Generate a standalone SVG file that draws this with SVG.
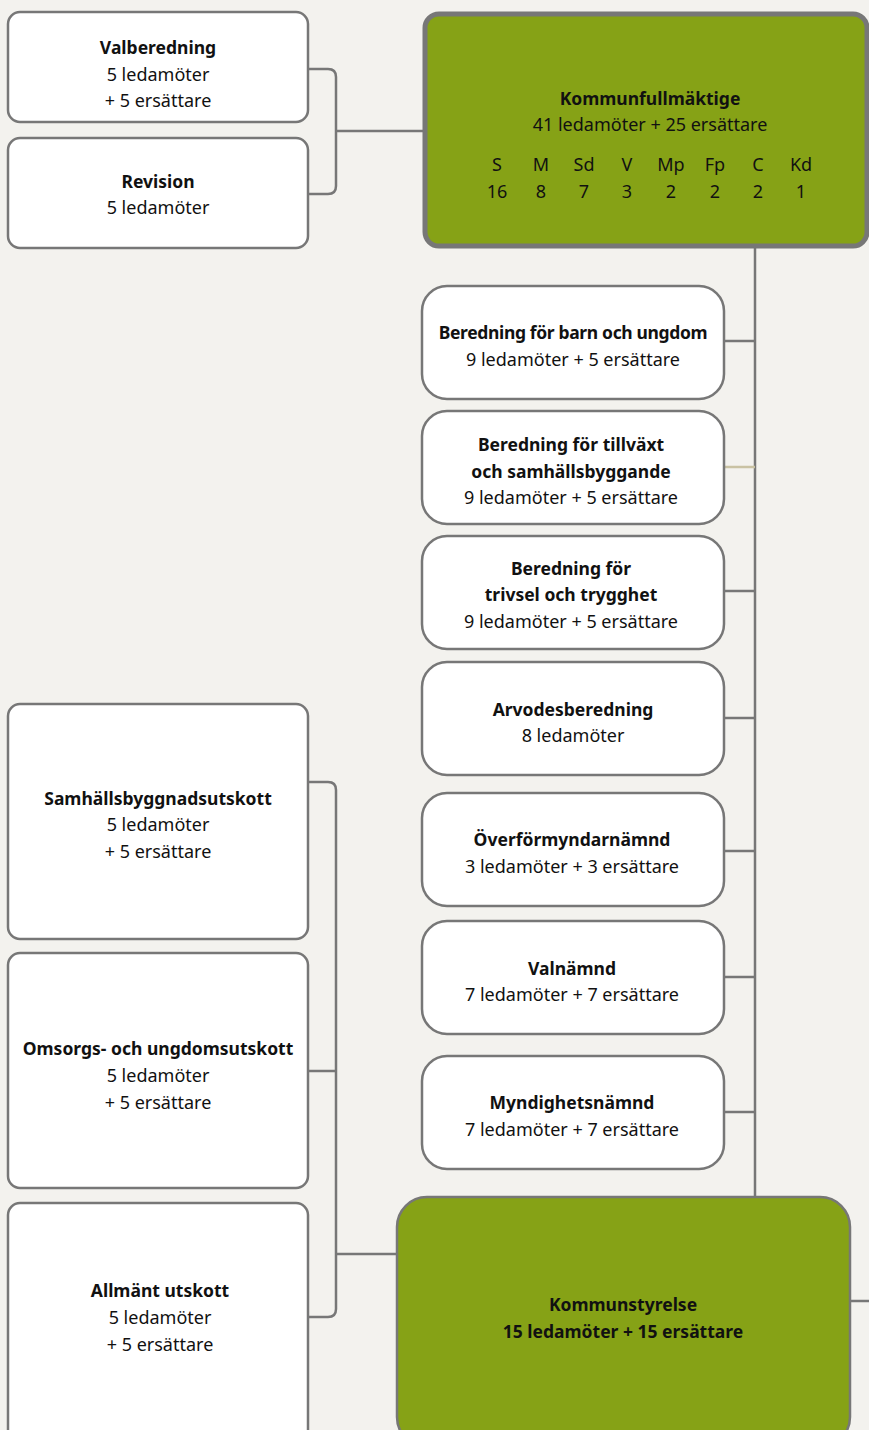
<svg xmlns="http://www.w3.org/2000/svg" width="869" height="1430" viewBox="0 0 869 1430">
<style>
text{font-family:"Noto Sans","Open Sans","Liberation Sans",sans-serif;font-size:18px;fill:#111;text-anchor:middle}
.b{font-weight:bold;font-size:17.5px}
.box{fill:#fff;stroke:#777;stroke-width:2.5}
.green{fill:#86a216;stroke:#777}
.ln{fill:none;stroke:#777;stroke-width:2.5}
</style>
<rect width="869" height="1430" fill="#f3f2ee"/>
<g id="connectors">
<path class="ln" d="M308 69 H328 Q336 69 336 77 V186 Q336 194 328 194 H308"/>
<path class="ln" d="M336 131 H424"/>
<path class="ln" d="M755 248 V1197"/>
<path class="ln" d="M724 341 H755"/>
<path d="M724 467 H755" fill="none" stroke="#c9c2a3" stroke-width="2.5"/>
<path class="ln" d="M724 591 H755"/>
<path class="ln" d="M724 718 H755"/>
<path class="ln" d="M724 851 H755"/>
<path class="ln" d="M724 977 H755"/>
<path class="ln" d="M724 1112 H755"/>
<path class="ln" d="M308 782 H328 Q336 782 336 790 V1309 Q336 1317 328 1317 H308"/>
<path class="ln" d="M308 1071 H336"/>
<path class="ln" d="M336 1254 H397"/>
<path class="ln" d="M850 1301 H869"/>
</g>
<g id="valberedning">
<rect class="box" x="8" y="12" width="300" height="110" rx="12"/>
<text x="158" y="54" class="b">Valberedning</text>
<text x="158" y="81">5 ledamöter</text>
<text x="158" y="107">+ 5 ersättare</text>
</g>
<g id="revision">
<rect class="box" x="8" y="138" width="300" height="110" rx="12"/>
<text x="158" y="188" class="b">Revision</text>
<text x="158" y="214">5 ledamöter</text>
</g>
<g id="kommunfullmaktige">
<rect class="green" x="425" y="14" width="442" height="232" rx="14" stroke-width="5"/>
<text x="650" y="105" class="b">Kommunfullmäktige</text>
<text x="650" y="131">41 ledamöter + 25 ersättare</text>
<text x="497" y="171">S</text><text x="541" y="171">M</text><text x="584" y="171">Sd</text><text x="627" y="171">V</text><text x="671" y="171">Mp</text><text x="715" y="171">Fp</text><text x="758" y="171">C</text><text x="801" y="171">Kd</text>
<text x="497" y="198">16</text><text x="541" y="198">8</text><text x="584" y="198">7</text><text x="627" y="198">3</text><text x="671" y="198">2</text><text x="715" y="198">2</text><text x="758" y="198">2</text><text x="801" y="198">1</text>
</g>
<g id="beredning-barn">
<rect class="box" x="422" y="286" width="302" height="113" rx="25"/>
<text x="573" y="339" class="b" letter-spacing="-0.35">Beredning för barn och ungdom</text>
<text x="573" y="366">9 ledamöter + 5 ersättare</text>
</g>
<g id="beredning-tillvaxt">
<rect class="box" x="422" y="411" width="302" height="113" rx="25"/>
<text x="571" y="451" class="b">Beredning för tillväxt</text>
<text x="571" y="478" class="b">och samhällsbyggande</text>
<text x="571" y="504">9 ledamöter + 5 ersättare</text>
</g>
<g id="beredning-trivsel">
<rect class="box" x="422" y="536" width="302" height="113" rx="25"/>
<text x="571" y="575" class="b">Beredning för</text>
<text x="571" y="601" class="b">trivsel och trygghet</text>
<text x="571" y="628">9 ledamöter + 5 ersättare</text>
</g>
<g id="arvodesberedning">
<rect class="box" x="422" y="662" width="302" height="113" rx="25"/>
<text x="573" y="716" class="b">Arvodesberedning</text>
<text x="573" y="742">8 ledamöter</text>
</g>
<g id="overformyndarnamnd">
<rect class="box" x="422" y="793" width="302" height="113" rx="25"/>
<text x="572" y="846" class="b">Överförmyndarnämnd</text>
<text x="572" y="873">3 ledamöter + 3 ersättare</text>
</g>
<g id="valnamnd">
<rect class="box" x="422" y="921" width="302" height="113" rx="25"/>
<text x="572" y="975" class="b">Valnämnd</text>
<text x="572" y="1001">7 ledamöter + 7 ersättare</text>
</g>
<g id="myndighetsnamnd">
<rect class="box" x="422" y="1056" width="302" height="113" rx="25"/>
<text x="572" y="1109" class="b">Myndighetsnämnd</text>
<text x="572" y="1136">7 ledamöter + 7 ersättare</text>
</g>
<g id="samhallsbyggnadsutskott">
<rect class="box" x="8" y="704" width="300" height="235" rx="12"/>
<text x="158" y="805" class="b">Samhällsbyggnadsutskott</text>
<text x="158" y="831">5 ledamöter</text>
<text x="158" y="858">+ 5 ersättare</text>
</g>
<g id="omsorgsutskott">
<rect class="box" x="8" y="953" width="300" height="235" rx="12"/>
<text x="158" y="1055" class="b">Omsorgs- och ungdomsutskott</text>
<text x="158" y="1082">5 ledamöter</text>
<text x="158" y="1109">+ 5 ersättare</text>
</g>
<g id="allmant-utskott">
<rect class="box" x="8" y="1203" width="300" height="240" rx="12"/>
<text x="160" y="1297" class="b">Allmänt utskott</text>
<text x="160" y="1324">5 ledamöter</text>
<text x="160" y="1351">+ 5 ersättare</text>
</g>
<g id="kommunstyrelse">
<rect class="green" x="397" y="1197" width="453" height="250" rx="30" stroke-width="2.5"/>
<text x="623" y="1311" class="b">Kommunstyrelse</text>
<text x="623" y="1338" class="b">15 ledamöter + 15 ersättare</text>
</g>
</svg>
